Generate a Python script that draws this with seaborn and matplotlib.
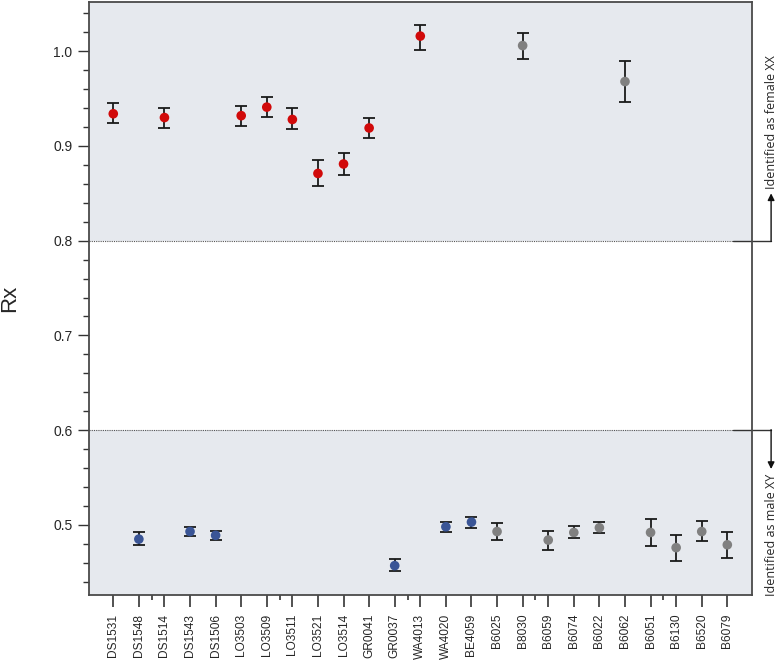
"""
Rx values per sample with confidence intervals, shaded sex-assignment zones
"""
import numpy as np
import pandas as pd
import matplotlib
matplotlib.use('Agg')
import matplotlib.pyplot as plt
import matplotlib.transforms as mtransforms
from matplotlib.ticker import MultipleLocator, FixedLocator
import seaborn as sns

# Samples, Rx estimates and 95% CI bounds
samples = ['DS1531', 'DS1548', 'DS1514', 'DS1543', 'DS1506', 'LO3503', 'LO3509',
           'LO3511', 'LO3521', 'LO3514', 'GR0041', 'GR0037', 'WA4013', 'WA4020',
           'BE4059', 'B6025', 'B8030', 'B6059', 'B6074', 'B6022', 'B6062', 'B6051',
           'B6130', 'B6520', 'B6079']
rx = [0.934, 0.485, 0.930, 0.493, 0.489, 0.932, 0.941, 0.928, 0.871, 0.881,
      0.919, 0.457, 1.016, 0.498, 0.503, 0.493, 1.006, 0.484, 0.492, 0.497,
      0.968, 0.492, 0.476, 0.493, 0.479]
rx_low = [0.924, 0.479, 0.919, 0.488, 0.484, 0.921, 0.931, 0.918, 0.858, 0.869,
          0.908, 0.451, 1.001, 0.492, 0.497, 0.484, 0.992, 0.474, 0.486, 0.491,
          0.946, 0.478, 0.462, 0.483, 0.465]
rx_high = [0.945, 0.492, 0.940, 0.498, 0.494, 0.942, 0.952, 0.940, 0.885, 0.893,
           0.930, 0.464, 1.028, 0.503, 0.508, 0.502, 1.019, 0.494, 0.499, 0.503,
           0.990, 0.506, 0.489, 0.504, 0.493]
group = ['female', 'male', 'female', 'male', 'male', 'female', 'female', 'female',
         'female', 'female', 'female', 'male', 'female', 'male', 'male', 'other',
         'other', 'other', 'other', 'other', 'other', 'other', 'other', 'other', 'other']

female_cut = 0.8
male_cut = 0.6

df = pd.DataFrame({'sample': samples, 'rx': rx, 'low': rx_low,
                   'high': rx_high, 'group': group})
df['pos'] = np.arange(len(df))

palette = {'female': '#d10a0a', 'male': '#3a5596', 'other': '#808080'}
shade = '#e6e9ee'
spine_col = '#4a4a4a'

sns.set_style('ticks')
plt.rcParams['font.family'] = ['Liberation Sans', 'DejaVu Sans']

fig = plt.figure(figsize=(7.77, 6.62), dpi=100)
ax = fig.add_axes([0.1145, 0.1012, 0.8535, 0.8958])

ylo, yhi = 0.426, 1.052
ax.set_xlim(-0.95, 24.97)
ax.set_ylim(ylo, yhi)

# shaded zones
ax.axhspan(female_cut, yhi, color=shade, lw=0, zorder=0)
ax.axhspan(ylo, male_cut, color=shade, lw=0, zorder=0)

# error bars
ax.errorbar(df['pos'], df['rx'],
            yerr=[df['rx'] - df['low'], df['high'] - df['rx']],
            fmt='none', ecolor='#1a1a1a', elinewidth=1.3, capsize=4.5,
            capthick=1.3, zorder=2)

sns.scatterplot(data=df, x='pos', y='rx', hue='group', palette=palette,
                s=48, edgecolor='none', legend=False, zorder=3, ax=ax)

# threshold lines
trans = mtransforms.blended_transform_factory(ax.transAxes, ax.transData)
x_end = 0.971
x_arrow = 1.0286
for cut in (female_cut, male_cut):
    ax.plot([0, x_end], [cut, cut], transform=trans, ls=(0, (1, 1)),
            lw=0.8, color='#555555', zorder=1)
    ax.plot([x_end, x_arrow], [cut, cut], transform=trans, lw=1.0,
            color='#333333', clip_on=False)

ax.annotate('', xy=(x_arrow, 0.850), xytext=(x_arrow, female_cut - 0.0005),
            xycoords=trans, textcoords=trans, annotation_clip=False,
            arrowprops=dict(arrowstyle='-|>', color='#111111', lw=1.0,
                            shrinkA=0, shrinkB=0, mutation_scale=10))
ax.annotate('', xy=(x_arrow, 0.559), xytext=(x_arrow, male_cut + 0.0005),
            xycoords=trans, textcoords=trans, annotation_clip=False,
            arrowprops=dict(arrowstyle='-|>', color='#111111', lw=1.0,
                            shrinkA=0, shrinkB=0, mutation_scale=10))

t1 = ax.text(x_arrow, 0.855, 'Identified as female XX', transform=trans,
             rotation=90, ha='center', va='bottom', fontsize=9,
             family=['Open Sans', 'DejaVu Sans'])
t2 = ax.text(x_arrow, 0.554, 'Identified as male XY', transform=trans,
             rotation=90, ha='center', va='top', fontsize=9,
             family=['Open Sans', 'DejaVu Sans'])

# axes styling
ax.set_xticks(df['pos'])
ax.set_xticklabels(df['sample'], rotation=90, fontsize=8.6)
ax.xaxis.set_minor_locator(FixedLocator([1.5, 6.5, 11.5, 16.5, 21.5]))
ax.yaxis.set_minor_locator(MultipleLocator(0.02))
ax.set_yticks([0.5, 0.6, 0.7, 0.8, 0.9, 1.0])
ax.set_yticklabels(['0.5', '0.6', '0.7', '0.8', '0.9', '1.0'], fontsize=10)

ax.tick_params(axis='x', which='major', length=8.5, width=1.2, color='#333333', pad=5)
ax.tick_params(axis='x', which='minor', length=3.5, width=1.2, color='#333333')
ax.tick_params(axis='y', which='major', length=8, width=1.0, color='#333333', pad=4)
ax.tick_params(axis='y', which='minor', length=4, width=1.0, color='#333333')

for side in ['left', 'right', 'top', 'bottom']:
    ax.spines[side].set_visible(True)
    ax.spines[side].set_color(spine_col)
    ax.spines[side].set_linewidth(1.3)

ax.set_xlabel('')
ax.set_ylabel('Rx', fontsize=16, labelpad=24)

fig.savefig('out.png', dpi=100)
r = fig.canvas.get_renderer()
print("female text extent:", t1.get_window_extent(r))
print("male text extent:", t2.get_window_extent(r))
print("Saved out.png")
